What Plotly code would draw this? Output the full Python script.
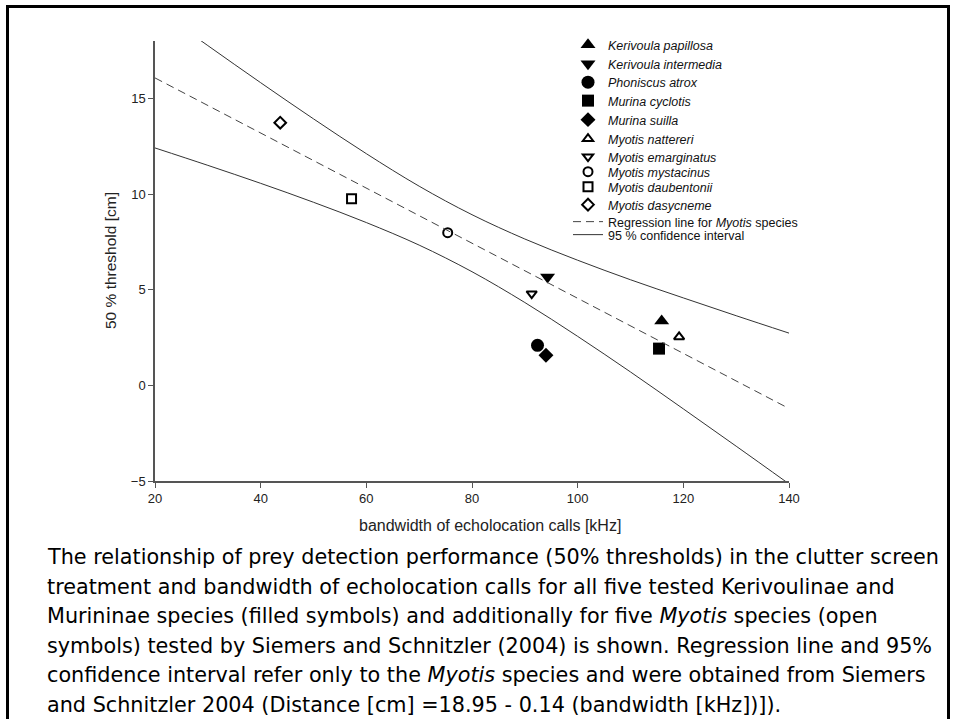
import plotly.graph_objects as go

# Species measurements: bandwidth of echolocation calls [kHz] vs 50 % threshold [cm]
species = [
    "Kerivoula papillosa", "Kerivoula intermedia", "Phoniscus atrox",
    "Murina cyclotis", "Murina suilla", "Myotis nattereri",
    "Myotis emarginatus", "Myotis mystacinus", "Myotis daubentonii",
    "Myotis dasycneme",
]
bandwidth = [115.9, 94.3, 92.4, 115.4, 94.0, 119.2, 91.3, 75.4, 57.2, 43.7]
threshold = [3.36, 5.66, 2.09, 1.92, 1.57, 2.53, 4.79, 7.98, 9.76, 13.73]
symbols = [
    "triangle-up", "triangle-down", "circle", "square", "diamond",
    "triangle-up-open", "triangle-down-open", "circle-open", "square-open",
    "diamond-open",
]
sizes = [13, 13, 13, 12, 11.5, 9, 9, 9, 9, 9]

# Regression line for Myotis species (end points)
reg_x = [20, 140]
reg_y = [16.07, -1.21]

# 95 % confidence band, read at 10 kHz steps
ci_x = [20, 30, 40, 50, 60, 70, 80, 90, 100, 110, 120, 130, 140]
ci_upper = [19.73, 17.76, 15.82, 13.93, 12.11, 10.41, 8.92, 7.65, 6.54,
            5.52, 4.57, 3.64, 2.73]
ci_lower = [12.41, 11.50, 10.56, 9.57, 8.51, 7.33, 5.94, 4.33, 2.56,
            0.70, -1.23, -3.18, -5.15]

caption_lines = [
    "The relationship of prey detection performance (50% thresholds) in the clutter screen",
    "treatment and bandwidth of echolocation calls for all five tested Kerivoulinae and",
    "Murininae species (filled symbols) and additionally for five <i>Myotis</i> species (open",
    "symbols) tested by Siemers and Schnitzler (2004) is shown. Regression line and 95%",
    "confidence interval refer only to the <i>Myotis</i> species and were obtained from Siemers",
    "and Schnitzler 2004 (Distance [cm] =18.95 - 0.14 (bandwidth [kHz])]).",
]

AX_FONT = "Liberation Sans, Arial, sans-serif"
CAP_FONT = "DejaVu Sans, Verdana, sans-serif"

W, H = 955, 719
L, R, T, B = 155, 166, 41, 238
pw, ph = W - L - R, H - T - B


def px(xp):
    return (xp - L) / pw


def py(yp):
    return (H - B - yp) / ph


# vertical centre of each legend row (pixels from the top)
legend_rows = [45, 64, 82.5, 101, 120, 139, 157, 172, 187, 205, 222, 235]
legend_ids = ["legend"] + [f"legend{i}" for i in range(2, len(legend_rows) + 1)]

fig = go.Figure()

for i, (name, x, y, sym, sz) in enumerate(zip(species, bandwidth, threshold, symbols, sizes)):
    fig.add_trace(go.Scatter(
        x=[x], y=[y], mode="markers", name=f"<i>{name}</i>",
        legend=legend_ids[i],
        marker=dict(symbol=sym, size=sz, color="black",
                    line=dict(color="black", width=2 if sym.endswith("open") else 0)),
    ))

fig.add_trace(go.Scatter(
    x=reg_x, y=reg_y, mode="lines",
    name="Regression line for <i>Myotis</i> species", legend=legend_ids[10],
    line=dict(color="#444444", width=1, dash="8px,5px"),
))
fig.add_trace(go.Scatter(
    x=ci_x, y=ci_upper, mode="lines", name="95 % confidence interval",
    legend=legend_ids[11],
    line=dict(color="#333333", width=1, shape="spline"),
))
fig.add_trace(go.Scatter(
    x=ci_x, y=ci_lower, mode="lines", showlegend=False,
    line=dict(color="#333333", width=1, shape="spline"),
))

annotations = [
    dict(text="bandwidth of echolocation calls [kHz]", x=px(490), y=py(525),
         xref="paper", yref="paper", xanchor="center", yanchor="middle",
         showarrow=False, font=dict(family=AX_FONT, size=16, color="#222")),
    dict(text="50 % threshold [cm]", x=px(110), y=0.5, textangle=-90,
         xref="paper", yref="paper", xanchor="center", yanchor="middle",
         showarrow=False, font=dict(family=AX_FONT, size=15.5, color="#222")),
]
cap_y = [557, 586.5, 616, 645.5, 675, 704.5]
for line, yc in zip(caption_lines, cap_y):
    annotations.append(dict(
        text=line, x=px(45), y=py(yc), xref="paper", yref="paper",
        xanchor="left", yanchor="middle", showarrow=False, align="left",
        font=dict(family=CAP_FONT, size=20.75, color="black"),
    ))

legend_style = dict(x=px(568), xanchor="left", yanchor="middle",
                    bgcolor="rgba(0,0,0,0)", borderwidth=0,
                    font=dict(family=AX_FONT, size=12.5, color="#111"),
                    itemwidth=30)
legends = {lid: dict(legend_style, y=py(row)) for lid, row in zip(legend_ids, legend_rows)}

tick_font = dict(family=AX_FONT, size=13, color="#222")

fig.update_layout(
    width=W, height=H,
    margin=dict(l=L, r=R, t=T, b=B, autoexpand=False),
    paper_bgcolor="white", plot_bgcolor="white",
    showlegend=True,
    xaxis=dict(range=[20, 140], tickvals=[20, 40, 60, 80, 100, 120, 140],
               showgrid=False, zeroline=False, showline=True,
               linecolor="#555", linewidth=1.5, ticks="outside", ticklen=5,
               tickcolor="#555", tickwidth=1, tickfont=tick_font),
    yaxis=dict(range=[-5, 18], tickvals=[-5, 0, 5, 10, 15],
               showgrid=False, zeroline=False, showline=True,
               linecolor="#555", linewidth=1.5, ticks="outside", ticklen=5,
               tickcolor="#555", tickwidth=1, tickfont=tick_font),
    annotations=annotations,
    shapes=[dict(type="rect", xref="paper", yref="paper",
                 x0=px(7.5), x1=px(948.5), y0=py(735), y1=py(6.5),
                 line=dict(color="black", width=3), layer="above")],
    **legends,
)

fig.write_html("out.html")
